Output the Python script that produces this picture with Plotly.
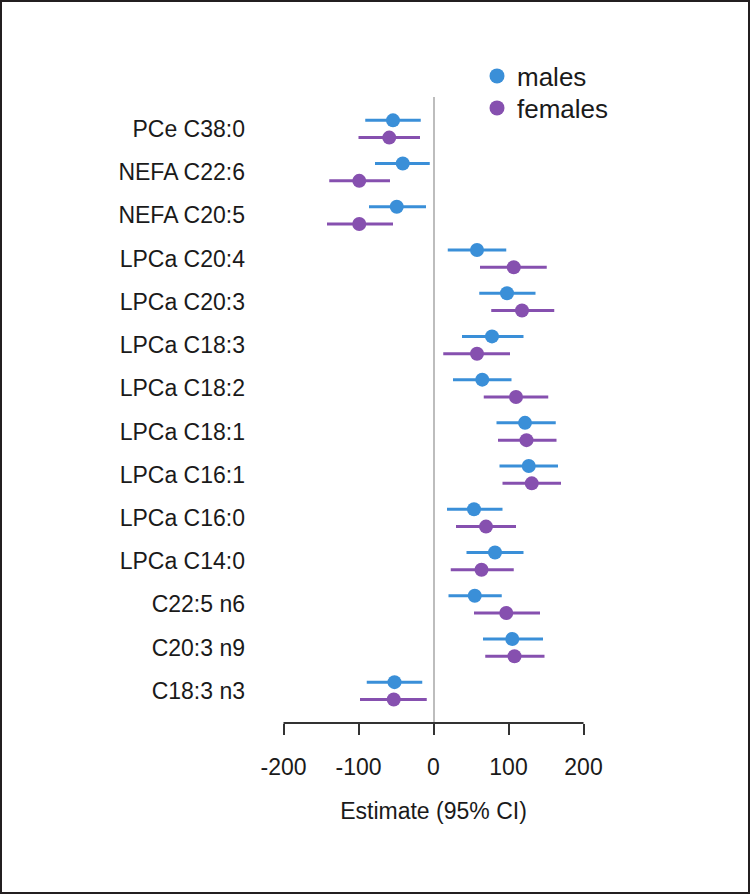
import plotly.graph_objects as go

categories = ["PCe C38:0", "NEFA C22:6", "NEFA C20:5", "LPCa C20:4", "LPCa C20:3",
              "LPCa C18:3", "LPCa C18:2", "LPCa C18:1", "LPCa C16:1", "LPCa C16:0",
              "LPCa C14:0", "C22:5 n6", "C20:3 n9", "C18:3 n3"]

male_est = [-54, -41, -49, 58, 98, 78, 65, 122, 127, 54, 82, 55, 105, -52]
male_lo = [-91, -78, -86, 19, 61, 38, 26, 84, 88, 18, 44, 20, 66, -89]
male_hi = [-17, -5, -10, 97, 136, 120, 104, 163, 166, 92, 120, 91, 146, -15]

female_est = [-59, -99, -99, 107, 118, 58, 110, 124, 131, 70, 64, 97, 108, -53]
female_lo = [-100, -139, -142, 62, 77, 13, 67, 86, 92, 30, 23, 54, 69, -98]
female_hi = [-18, -58, -54, 151, 161, 102, 153, 164, 170, 110, 107, 142, 148, -9]

x_ticks = [-200, -100, 0, 100, 200]
series_names = ["males", "females"]
colors = ["#3A8FD8", "#8650AF"]

n = len(categories)
rows = [n - 1 - i for i in range(n)]
offset = 0.2

W, H = 750, 894
ml, mr, mt, mb = 260, 143, 97, 171
pw, ph = W - ml - mr, H - mt - mb

FONT = "Liberation Sans, Arial, sans-serif"


def px_x(p):
    return (p - ml) / pw


def px_y(p):
    return (H - mb - p) / ph


fig = go.Figure()

legend_ids = ["legend", "legend2"]
for name, col, est, lo, hi, sgn, lg in [
    (series_names[0], colors[0], male_est, male_lo, male_hi, +1, legend_ids[0]),
    (series_names[1], colors[1], female_est, female_lo, female_hi, -1, legend_ids[1]),
]:
    fig.add_trace(go.Scatter(
        x=est,
        y=[r + sgn * offset for r in rows],
        mode="markers",
        marker=dict(color=col, size=14),
        error_x=dict(type="data", symmetric=False,
                     array=[h - e for h, e in zip(hi, est)],
                     arrayminus=[e - l for e, l in zip(est, lo)],
                     color=col, thickness=3, width=0),
        showlegend=False, name=name, hoverinfo="x+name",
    ))
    fig.add_trace(go.Scatter(
        x=[None], y=[None], mode="markers", name=name,
        marker=dict(color=col, size=15), showlegend=True, legend=lg,
    ))

half = (pw / 2) / 0.75

legend_style = dict(xanchor="left", yanchor="middle",
                    font=dict(size=26, family=FONT, color="#1a1a1a"),
                    bgcolor="rgba(0,0,0,0)", borderwidth=0, itemwidth=30)

fig.update_layout(
    width=W, height=H,
    margin=dict(l=ml, r=mr, t=mt, b=mb),
    paper_bgcolor="white", plot_bgcolor="white",
    font=dict(family=FONT, size=23, color="#1a1a1a"),
    xaxis=dict(
        range=[-half, half],
        tickvals=x_ticks, ticktext=[str(v) for v in x_ticks],
        ticks="outside", ticklen=11, tickwidth=2, tickcolor="#333333",
        showgrid=False, showline=False,
        zeroline=True, zerolinecolor="#BDBDBD", zerolinewidth=2,
        tickfont=dict(size=23), ticklabelstandoff=12,
        title=dict(text="Estimate (95% CI)", font=dict(size=23), standoff=24),
    ),
    yaxis=dict(
        range=[-0.745, 13.74],
        tickvals=rows, ticktext=categories,
        ticks="", showgrid=False, zeroline=False, showline=False,
        tickfont=dict(size=23), ticklabelstandoff=14,
    ),
    legend=dict(x=px_x(477), y=px_y(76), **legend_style),
    legend2=dict(x=px_x(477), y=px_y(108), **legend_style),
    shapes=[
        dict(type="line", xref="x", yref="paper",
             x0=min(x_ticks), x1=max(x_ticks), y0=0, y1=0,
             line=dict(color="#333333", width=2)),
        dict(type="rect", xref="paper", yref="paper",
             x0=px_x(0), x1=px_x(W), y0=px_y(0), y1=px_y(H),
             line=dict(color="#231F20", width=4), fillcolor="rgba(0,0,0,0)"),
    ],
)

fig.write_html("out.html", config={"displayModeBar": False},
               post_script="document.body.style.margin='0';")
